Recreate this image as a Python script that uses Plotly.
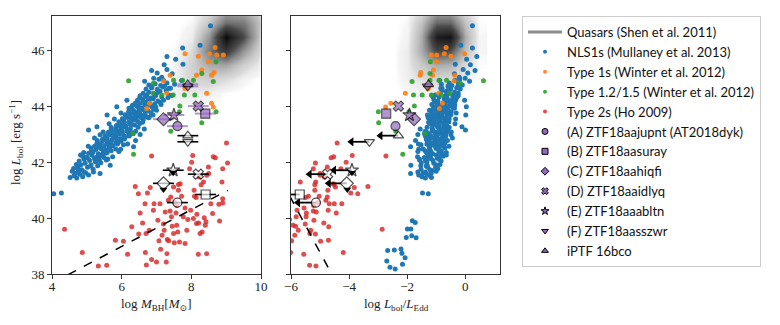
import plotly.graph_objects as go

# log L_Edd = 38.1 + log M_BH  ->  log(L_bol/L_Edd) = log L_bol - 38.1 - log M_BH
LEDD_ZERO = 38.1

SERIF = "Liberation Serif, DejaVu Serif, serif"
SANS = "Lato, Liberation Sans, sans-serif"
BLUE = "#1f77b4"
ORANGE = "rgba(255,127,14,0.9)"
GREEN = "rgba(44,160,44,0.9)"
RED = "rgba(214,39,40,0.82)"
PURPLE = "#9467bd"
PURPLE_ERR = "rgba(148,103,189,0.7)"
AXC = "#333333"
PAD = 8  # browser body margin, figure is drawn 8px in from the page corner

# ---- quasar cloud (Shen et al. 2011), read as a coarse density grid ----
qso_mbh_grid = [7.0, 7.5, 8.0, 8.5, 9.0, 9.5, 10.0, 10.5]
qso_lbol_grid = [44.0, 44.5, 45.0, 45.5, 46.0, 46.5, 47.0, 47.5]
qso_density_left = [
    [0.00, 0.01, 0.01, 0.00, 0.00, 0.00, 0.00, 0.00],
    [0.00, 0.04, 0.06, 0.04, 0.01, 0.00, 0.00, 0.00],
    [0.00, 0.04, 0.12, 0.15, 0.10, 0.03, 0.00, 0.00],
    [0.00, 0.02, 0.14, 0.28, 0.30, 0.14, 0.04, 0.00],
    [0.00, 0.01, 0.10, 0.45, 0.70, 0.35, 0.10, 0.01],
    [0.00, 0.00, 0.05, 0.35, 0.95, 0.60, 0.15, 0.02],
    [0.00, 0.00, 0.02, 0.18, 0.50, 0.45, 0.18, 0.02],
    [0.00, 0.00, 0.00, 0.08, 0.25, 0.25, 0.10, 0.00],
]
qso_edd_grid = [-2.5, -2.0, -1.5, -1.0, -0.5, 0.0, 0.5]
qso_density_right = [
    [0.00, 0.00, 0.00, 0.00, 0.00, 0.00, 0.00],
    [0.00, 0.01, 0.03, 0.04, 0.03, 0.01, 0.00],
    [0.00, 0.04, 0.09, 0.12, 0.10, 0.04, 0.00],
    [0.00, 0.05, 0.17, 0.28, 0.25, 0.10, 0.01],
    [0.00, 0.05, 0.28, 0.62, 0.58, 0.20, 0.02],
    [0.00, 0.03, 0.27, 0.85, 0.90, 0.27, 0.02],
    [0.00, 0.02, 0.20, 0.52, 0.52, 0.20, 0.01],
    [0.00, 0.00, 0.08, 0.25, 0.25, 0.08, 0.00],
]

# ---- NLS1s (Mullaney et al. 2013) ----
nls1_mbh = [
    4.52, 4.63, 4.71, 4.80, 4.88, 4.97, 5.05, 4.58, 4.76, 4.93,
    4.62, 4.85, 5.02, 5.18, 5.31, 4.70, 4.95, 5.12, 5.40, 5.24,
    4.78, 4.92, 5.08, 5.22, 5.36, 5.49, 5.60, 4.88, 5.15, 5.30, 5.44, 5.02,
    5.05, 5.18, 5.33, 5.47, 5.58, 5.70, 5.26, 5.40, 5.55, 5.12, 5.66, 5.83,
    5.22, 5.36, 5.50, 5.62, 5.75, 5.88, 5.42, 5.57, 5.70, 5.84, 5.98, 5.30, 6.05,
    5.45, 5.58, 5.72, 5.85, 5.97, 6.10, 5.52, 5.66, 5.80, 5.93, 6.06, 6.20, 5.38,
    5.62, 5.76, 5.90, 6.02, 6.15, 6.28, 6.40, 5.70, 5.84, 5.98, 6.12, 6.25,
    5.85, 5.98, 6.11, 6.24, 6.37, 6.52, 5.92, 6.06, 6.20, 6.33, 6.46, 6.62,
    6.02, 6.16, 6.30, 6.43, 6.57, 6.70, 6.10, 6.25, 6.38, 6.52, 6.66, 6.84,
    6.20, 6.34, 6.48, 6.61, 6.75, 6.92, 6.28, 6.44, 6.58, 6.72, 6.88,
    6.38, 6.52, 6.66, 6.80, 6.95, 7.10, 6.45, 6.60, 6.75, 6.90,
    6.52, 6.68, 6.83, 6.98, 7.15, 7.35, 6.62, 6.78, 6.94, 7.10, 7.28,
    6.70, 6.86, 7.02, 7.18, 7.36, 6.78, 6.96, 7.12, 7.30, 7.52, 6.66, 7.72,
    6.92, 7.15, 7.02, 7.45, 6.86, 7.30, 7.22, 7.76, 7.55, 7.30, 7.75, 8.25, 8.55, 7.44, 7.20,
    5.05, 5.29, 5.58, 5.86, 6.15,
    5.38, 5.67, 6.34, 6.53, 6.77, 7.00, 7.20,
    4.68, 4.83, 5.11, 4.99, 5.27, 5.41, 5.13, 5.36, 5.52, 5.64, 5.47, 5.29, 5.71,
    5.77, 5.91, 5.61, 5.83, 6.08, 5.95, 6.18, 6.22, 6.06, 6.29, 6.41, 6.13, 6.35,
    6.55, 6.49, 6.68, 6.39, 6.63, 6.84, 6.72, 6.91, 7.05, 6.87, 7.23, 7.07, 5.19,
    4.74, 5.56, 5.97, 6.17, 6.33, 6.47, 6.60, 6.79, 6.98, 7.04, 5.04, 5.22, 5.47,
    5.64, 5.79, 5.98, 6.21, 6.53, 4.91, 4.82, 5.33, 5.59, 5.86, 6.01, 5.70, 6.26,
    6.45, 6.31, 6.77, 5.74, 5.92, 6.40, 6.65, 6.90, 7.13, 7.40, 7.33,
    4.05, 4.27,
    3.41, 3.20, 3.07, 2.73, 2.49, 3.01, 2.82, 2.41, 2.55, 3.24, 3.50, 3.38,
    3.63, 3.47, 3.11, 2.89,
]
nls1_lbol = [
    41.46, 41.52, 41.44, 41.58, 41.49, 41.62, 41.55, 41.68, 41.71, 41.66,
    41.78, 41.74, 41.83, 41.76, 41.88, 41.93, 41.97, 41.91, 41.99, 42.02,
    42.05, 42.11, 42.07, 42.14, 42.09, 42.18, 42.12, 42.22, 42.26, 42.20, 42.28, 42.16,
    42.33, 42.37, 42.31, 42.39, 42.35, 42.42, 42.46, 42.50, 42.44, 42.52, 42.54, 42.48,
    42.58, 42.61, 42.57, 42.64, 42.60, 42.66, 42.71, 42.69, 42.74, 42.72, 42.77, 42.79, 42.63,
    42.83, 42.86, 42.81, 42.88, 42.85, 42.90, 42.95, 42.98, 42.93, 43.01, 42.97, 43.03, 42.99,
    43.08, 43.06, 43.11, 43.09, 43.13, 43.07, 43.12, 43.19, 43.24, 43.21, 43.27, 43.22,
    43.32, 43.35, 43.31, 43.38, 43.34, 43.40, 43.46, 43.49, 43.44, 43.52, 43.47, 43.53,
    43.57, 43.61, 43.58, 43.63, 43.59, 43.65, 43.71, 43.74, 43.69, 43.77, 43.72, 43.78,
    43.82, 43.86, 43.83, 43.89, 43.85, 43.91, 43.97, 44.01, 43.95, 44.03, 43.99,
    44.07, 44.11, 44.08, 44.14, 44.10, 44.16, 44.22, 44.26, 44.20, 44.28,
    44.33, 44.36, 44.31, 44.40, 44.35, 44.42, 44.48, 44.52, 44.46, 44.55, 44.58,
    44.63, 44.67, 44.62, 44.70, 44.66, 44.78, 44.82, 44.76, 44.85, 44.80, 44.91, 44.94,
    45.02, 45.05, 45.21, 45.18, 45.30, 45.33, 45.50, 45.52, 45.70, 45.80, 46.10, 46.20, 46.90, 44.40, 44.95,
    43.16, 43.28, 43.70, 44.00, 44.23,
    41.60, 41.90, 42.56, 43.00, 43.60, 43.87, 44.23,
    41.61, 41.92, 41.87, 42.19, 42.03, 42.24, 42.41, 42.57, 42.33, 42.51, 42.81, 42.69, 42.62,
    42.89, 42.73, 43.04, 43.17, 42.84, 43.31, 43.14, 42.95, 43.42, 43.36, 43.55, 43.67, 43.79,
    43.68, 43.95, 43.81, 44.12, 44.19, 44.04, 44.41, 44.33, 44.52, 44.72, 44.74, 44.98, 41.66,
    41.82, 42.09, 42.47, 42.66, 43.03, 43.26, 43.44, 43.62, 43.99, 44.20, 42.58, 42.88, 43.09,
    43.39, 43.56, 43.77, 43.94, 44.39, 42.36, 42.27, 42.14, 42.77, 43.02, 43.21, 43.25, 43.58,
    43.73, 44.05, 44.25, 42.20, 42.39, 42.79, 43.20, 43.70, 44.08, 44.66, 44.33,
    40.88, 40.90,
    38.84, 38.86, 38.47, 38.24, 38.18, 38.90, 38.74, 38.35, 38.58, 39.31, 39.61, 39.61,
    39.91, 39.85, 39.37, 39.30,
]

# ---- Type 1s (Winter et al. 2012) ----
t1_mbh = [7.82, 8.20, 8.52, 8.49, 8.30, 8.73, 8.92, 8.68, 8.58, 8.15, 7.39,
          7.20, 7.82, 7.29, 8.44, 8.58, 8.63, 6.72, 6.80, 8.65]
t1_lbol = [45.90, 45.81, 45.90, 45.61, 45.31, 45.85, 45.85, 46.12, 45.13, 45.13, 45.13,
           44.92, 44.65, 44.48, 44.48, 44.12, 43.99, 43.93, 44.12, 45.22]

# ---- Type 1.2/1.5 (Winter et al. 2012) ----
t12_mbh = [6.20, 6.34, 6.32, 7.49, 7.75, 8.06, 8.30, 8.71, 7.48, 7.15, 7.80,
           8.10, 6.91, 6.91, 7.67, 7.66, 8.71, 8.30, 7.41, 8.63]
t12_lbol = [44.93, 42.29, 43.04, 44.95, 44.95, 44.95, 45.19, 45.61, 44.42, 44.42, 44.42,
            44.42, 44.48, 44.84, 44.02, 43.82, 43.82, 43.42, 43.12, 44.90]

# ---- Type 2s (Ho 2009) ----
t2_mbh = [
    4.36, 4.87, 5.33, 5.57, 5.82, 6.17, 6.39, 6.53, 6.60, 6.49, 6.70, 6.68,
    6.71, 6.82, 6.74, 6.86, 6.79, 6.86, 6.93, 6.91, 7.07, 7.12, 7.16, 7.20,
    7.22, 7.28, 7.31, 7.35, 7.39, 7.41, 7.43, 7.45, 7.49, 7.51, 7.53, 7.56,
    7.58, 7.61, 7.63, 7.63, 7.66, 7.72, 7.77, 7.82, 7.87, 7.90, 7.95, 7.98,
    8.01, 8.04, 8.06, 8.08, 8.14, 8.16, 8.20, 8.21, 8.23, 8.28, 8.31, 8.35,
    8.37, 8.40, 8.44, 8.50, 8.56, 8.61, 8.69, 8.79, 8.81, 8.88, 8.90, 8.90,
    8.90, 9.04, 9.01, 8.63, 8.49, 8.44, 8.42, 8.25, 8.15, 6.29, 6.05, 7.00,
    7.30, 7.82, 7.25, 7.04, 7.49, 7.68, 7.10, 7.34, 6.48, 6.67, 8.09, 7.58,
]
t2_lbol = [
    39.60, 38.77, 38.29, 38.31, 39.21, 38.71, 41.14, 40.19, 39.83, 39.43, 39.45, 38.77,
    38.32, 41.10, 40.90, 42.23, 39.57, 38.52, 40.52, 40.29, 39.19, 38.89, 39.39, 39.79,
    39.57, 38.43, 39.24, 39.19, 40.26, 40.76, 40.05, 39.71, 39.45, 39.12, 40.56, 40.19,
    39.75, 39.51, 41.21, 41.00, 39.15, 40.79, 40.05, 40.37, 39.57, 39.95, 41.77, 40.29,
    42.01, 42.25, 39.99, 41.00, 40.74, 40.14, 38.71, 39.83, 41.48, 41.20, 39.51, 41.30,
    40.02, 39.75, 41.54, 41.60, 40.52, 40.17, 42.17, 40.50, 39.90, 41.30, 40.70, 40.55,
    41.77, 41.98, 42.70, 42.20, 41.84, 38.73, 39.87, 39.45, 39.81, 39.69, 39.17, 38.43,
    38.73, 39.09, 40.22, 39.93, 41.12, 41.24, 40.52, 40.64, 40.88, 40.52, 40.79, 40.46,
]

# dashed reference relation (same line in both panels)
rel_mbh = [4.0, 9.05]
rel_lbol = [37.67, 41.0]

# ---- ZTF / iPTF nuclear transients ----
ztf_names = ["(A) ZTF18aajupnt (AT2018dyk)", "(B) ZTF18aasuray", "(C) ZTF18aahiqfi",
             "(D) ZTF18aaidlyq", "(E) ZTF18aaabltn", "(F) ZTF18aasszwr", "iPTF 16bco"]
ztf_symbols = ["circle", "square", "diamond", "x", "star", "triangle-down", "triangle-up"]
ztf_sizes = [9, 9, 10, 9, 10, 9, 9]
# detections (purple)
det_mbh = [7.60, 8.40, 7.20, 8.20, 7.50, 7.90, 7.90]
det_mbh_err = [0.3, 0.3, 0.3, 0.3, 0.3, 0.3, 0.3]
det_lbol = [43.30, 43.75, 43.55, 44.02, 43.70, 44.73, 44.80]
det_edd = [-2.40, -2.72, -1.76, -2.30, -1.92, -1.30, -1.26]
# upper limits (open)
lim_mbh = [7.60, 8.41, 7.20, 8.20, 7.48, 7.90, 7.90]
lim_mbh_err = [0.3, 0.3, 0.3, 0.3, 0.3, 0.3, 0.3]
lim_lbol = [40.56, 40.85, 41.25, 41.58, 41.72, 42.74, 42.96]
lim_edd = [-5.14, -5.70, -4.08, -4.74, -3.90, -3.30, -2.30]
ARROW_LEN = 0.62
# limit carets drawn under (C) and (E)
caret_mbh = [7.20, 7.48]
caret_lbol = [41.03, 41.63]
caret_edd = [-4.06, -3.90]


def edd(mbh, lbol):
    return [l - LEDD_ZERO - m for m, l in zip(mbh, lbol)]


def px_x(px):
    return (px - PAD) / 780


def px_y(px):
    return 1 - (px - PAD) / 325


QSO_SCALE = [[0.0, "rgba(255,255,255,0)"], [0.02, "rgba(170,170,170,0.12)"],
             [0.1, "rgba(130,130,130,0.3)"], [0.3, "rgba(90,90,90,0.55)"],
             [0.6, "rgba(40,40,40,0.85)"], [1.0, "rgba(0,0,0,1)"]]

fig = go.Figure()

fig.add_trace(go.Heatmap(x=qso_mbh_grid, y=qso_lbol_grid, z=qso_density_left,
                         zsmooth="best", colorscale=QSO_SCALE, zmin=0, zmax=1,
                         showscale=False, hoverinfo="skip", xaxis="x", yaxis="y"))
fig.add_trace(go.Heatmap(x=qso_edd_grid, y=qso_lbol_grid, z=qso_density_right,
                         zsmooth="best", colorscale=QSO_SCALE, zmin=0, zmax=1,
                         showscale=False, hoverinfo="skip", xaxis="x2", yaxis="y2"))

pops = [("NLS1s (Mullaney et al. 2013)", nls1_mbh, nls1_lbol, BLUE),
        ("Type 1s (Winter et al. 2012)", t1_mbh, t1_lbol, ORANGE),
        ("Type 1.2/1.5 (Winter et al. 2012)", t12_mbh, t12_lbol, GREEN),
        ("Type 2s (Ho 2009)", t2_mbh, t2_lbol, RED)]

for name, m, l, col in pops:
    fig.add_trace(go.Scatter(x=m, y=l, mode="markers", name=name, showlegend=False,
                             marker=dict(size=5, color=col), xaxis="x", yaxis="y"))
    fig.add_trace(go.Scatter(x=edd(m, l), y=l, mode="markers", name=name, showlegend=False,
                             marker=dict(size=5, color=col), xaxis="x2", yaxis="y2"))

# dashed relation
fig.add_trace(go.Scatter(x=rel_mbh, y=rel_lbol, mode="lines", showlegend=False,
                         line=dict(color="black", width=1.5, dash="dash"),
                         xaxis="x", yaxis="y"))
fig.add_trace(go.Scatter(x=edd(rel_mbh, rel_lbol), y=rel_lbol, mode="lines", showlegend=False,
                         line=dict(color="black", width=1.5, dash="dash"),
                         xaxis="x2", yaxis="y2"))

# upper limits: left panel (mass error bars), right panel (arrows)
fig.add_trace(go.Scatter(
    x=lim_mbh, y=lim_lbol, mode="markers", showlegend=False,
    error_x=dict(type="data", array=lim_mbh_err, color="black", thickness=1.6, width=0),
    marker=dict(symbol=ztf_symbols, size=ztf_sizes, color="white",
                line=dict(color="black", width=1.2)),
    xaxis="x", yaxis="y"))
ax, ay = [], []
for r, l in zip(lim_edd, lim_lbol):
    ax += [r, r - ARROW_LEN, None]
    ay += [l, l, None]
fig.add_trace(go.Scatter(x=ax, y=ay, mode="lines", showlegend=False,
                         line=dict(color="black", width=1.8), xaxis="x2", yaxis="y2"))
fig.add_trace(go.Scatter(x=[r - ARROW_LEN for r in lim_edd], y=lim_lbol, mode="markers",
                         showlegend=False, marker=dict(symbol="triangle-left", size=8,
                                                      color="black"),
                         xaxis="x2", yaxis="y2"))
fig.add_trace(go.Scatter(
    x=lim_edd, y=lim_lbol, mode="markers", showlegend=False,
    marker=dict(symbol=ztf_symbols, size=ztf_sizes, color="white",
                line=dict(color="black", width=1.2)),
    xaxis="x2", yaxis="y2"))
fig.add_trace(go.Scatter(x=caret_mbh, y=caret_lbol, mode="markers", showlegend=False,
                         marker=dict(symbol="triangle-down", size=7, color="black"),
                         xaxis="x", yaxis="y"))
fig.add_trace(go.Scatter(x=caret_edd, y=caret_lbol, mode="markers", showlegend=False,
                         marker=dict(symbol="triangle-down", size=7, color="black"),
                         xaxis="x2", yaxis="y2"))

# detections
fig.add_trace(go.Scatter(
    x=det_mbh, y=det_lbol, mode="markers", showlegend=False,
    error_x=dict(type="data", array=det_mbh_err, color=PURPLE_ERR, thickness=2, width=0),
    marker=dict(symbol=ztf_symbols, size=ztf_sizes, color=PURPLE,
                line=dict(color="black", width=1.1)),
    xaxis="x", yaxis="y"))
fig.add_trace(go.Scatter(
    x=det_edd, y=det_lbol, mode="markers", showlegend=False,
    marker=dict(symbol=ztf_symbols, size=ztf_sizes, color=PURPLE,
                line=dict(color="black", width=1.1)),
    xaxis="x2", yaxis="y2"))

# legend-only entries
fig.add_trace(go.Scatter(x=[None], y=[None], mode="lines", name="Quasars (Shen et al. 2011)",
                         line=dict(color="#8c8c8c", width=3)))
for name, m, l, col in pops:
    fig.add_trace(go.Scatter(x=[None], y=[None], mode="markers", name=name,
                             marker=dict(size=4, color=col)))
for name, sym in zip(ztf_names, ztf_symbols):
    fig.add_trace(go.Scatter(x=[None], y=[None], mode="markers", name=name,
                             marker=dict(symbol=sym, size=6, color=PURPLE,
                                         line=dict(color="black", width=1))))

TXT = dict(family=SERIF, size=13, color="#222")
axis_common = dict(showline=True, mirror=True, linecolor=AXC, linewidth=1,
                   ticks="outside", ticklen=4, tickcolor=AXC, showgrid=False,
                   zeroline=False, automargin=False, tickfont=TXT)
fig.update_layout(
    width=780, height=325, margin=dict(l=0, r=0, t=0, b=0),
    paper_bgcolor="white", plot_bgcolor="white",
    xaxis=dict(domain=[px_x(52), px_x(261)], range=[4, 10], dtick=2,
               ticklabelstandoff=-4, **axis_common),
    yaxis=dict(domain=[px_y(274), px_y(16)], range=[38, 47.25], dtick=2, **axis_common),
    xaxis2=dict(domain=[px_x(291), px_x(500)], range=[-6, 1.2], dtick=2, anchor="y2",
                ticklabelstandoff=-4, **axis_common),
    yaxis2=dict(domain=[px_y(274), px_y(16)], range=[38, 47.25], dtick=2, anchor="x2",
                showticklabels=False, **axis_common),
    legend=dict(x=px_x(522), y=px_y(16), xanchor="left", yanchor="top",
                bordercolor="#cccccc", borderwidth=1, bgcolor="white",
                font=dict(family=SANS, size=13, color="#111"), tracegroupgap=0,
                itemsizing="trace", itemwidth=34),
    showlegend=True,
)

# axis titles
for text, x, y, ang in [
        ("log <i>M</i><sub>BH</sub>[<i>M</i><sub>⊙</sub>]", px_x(156), px_y(304), 0),
        ("log <i>L</i><sub>bol</sub>/<i>L</i><sub>Edd</sub>", px_x(396), px_y(304), 0),
        ("log <i>L</i><sub>bol</sub> [erg s<sup>−1</sup>]", px_x(16), px_y(143), -90)]:
    fig.add_annotation(text=text, x=x, y=y, xref="paper", yref="paper",
                       xanchor="center", yanchor="middle", textangle=ang,
                       showarrow=False, font=TXT)

fig.write_html("out.html")
